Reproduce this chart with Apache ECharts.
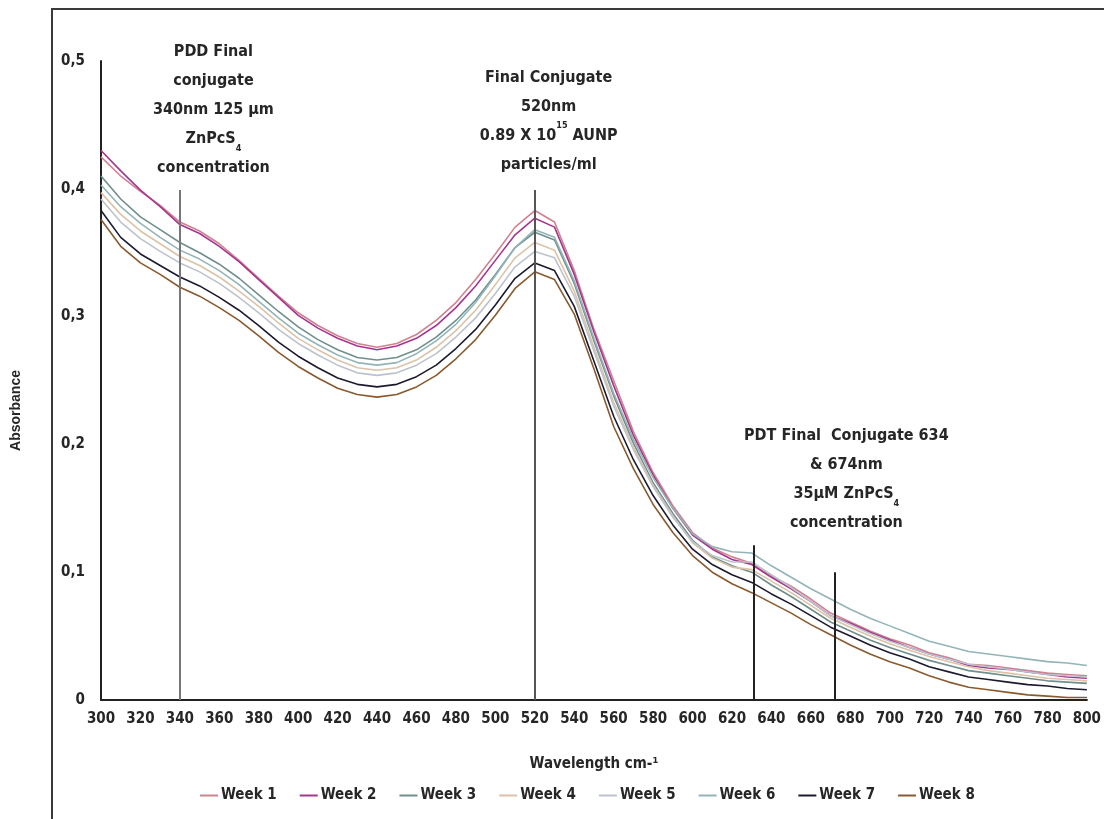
<!DOCTYPE html>
<html>
<head>
<meta charset="utf-8">
<script src="https://cdn.jsdelivr.net/npm/echarts@6/dist/echarts.min.js"></script>
<style>html,body{margin:0;padding:0;background:#fff}#c{width:1104px;height:819px}</style>
</head>
<body>
<div id="c"></div>
<script>
// wavelengths (nm), 10 nm steps
const wavelengths = [300,310,320,330,340,350,360,370,380,390,400,410,420,430,440,450,460,470,480,490,500,510,520,530,540,550,560,570,580,590,600,610,620,630,640,650,660,670,680,690,700,710,720,730,740,750,760,770,780,790,800];
const seriesNames = ['Week 1','Week 2','Week 3','Week 4','Week 5','Week 6','Week 7','Week 8'];
const week1 = [.425,.410,.398,.387,.374,.367,.357,.344,.330,.316,.303,.293,.285,.279,.276,.279,.286,.297,.311,.329,.349,.370,.383,.374,.336,.290,.250,.210,.178,.152,.131,.119,.112,.107,.097,.089,.079,.068,.061,.054,.048,.043,.037,.033,.028,.027,.025,.023,.021,.020,.019];
const week2 = [.430,.414,.399,.386,.372,.365,.355,.343,.329,.315,.301,.291,.283,.277,.274,.277,.283,.293,.307,.324,.344,.364,.377,.370,.333,.288,.246,.207,.176,.150,.129,.118,.110,.106,.096,.087,.077,.066,.060,.053,.047,.041,.036,.032,.027,.025,.024,.022,.020,.018,.017];
const week3 = [.410,.392,.378,.368,.358,.350,.341,.330,.317,.304,.292,.282,.274,.268,.266,.268,.274,.284,.297,.313,.333,.354,.366,.360,.326,.281,.238,.201,.170,.146,.125,.112,.105,.100,.090,.081,.071,.061,.054,.047,.041,.036,.031,.027,.023,.021,.019,.017,.015,.014,.013];
const week4 = [.397,.380,.367,.357,.347,.340,.331,.320,.308,.295,.283,.274,.266,.260,.258,.260,.266,.276,.289,.305,.325,.346,.358,.352,.320,.276,.233,.198,.168,.144,.123,.111,.104,.102,.093,.084,.074,.064,.057,.050,.044,.039,.034,.030,.026,.023,.021,.019,.017,.016,.015];
const week5 = [.392,.374,.361,.351,.342,.335,.326,.315,.303,.290,.279,.270,.262,.256,.254,.256,.262,.271,.284,.299,.318,.339,.351,.346,.316,.273,.230,.196,.167,.143,.124,.113,.108,.108,.098,.088,.077,.066,.059,.052,.046,.041,.036,.032,.028,.026,.024,.022,.020,.019,.018];
const week6 = [.403,.386,.373,.362,.352,.345,.336,.325,.312,.299,.287,.278,.270,.264,.262,.264,.271,.281,.294,.311,.332,.354,.368,.362,.328,.283,.240,.204,.174,.150,.130,.120,.116,.115,.105,.096,.087,.079,.071,.064,.058,.052,.046,.042,.038,.036,.034,.032,.030,.029,.027];
const week7 = [.383,.362,.349,.340,.331,.324,.315,.305,.293,.280,.269,.260,.252,.247,.245,.247,.253,.262,.275,.290,.309,.330,.342,.336,.308,.265,.222,.188,.160,.137,.118,.106,.098,.092,.083,.075,.066,.057,.050,.043,.037,.032,.026,.022,.018,.016,.014,.012,.011,.009,.008];
const week8 = [.376,.355,.342,.333,.323,.316,.307,.297,.285,.272,.261,.252,.244,.239,.237,.239,.245,.254,.267,.282,.301,.322,.335,.329,.302,.259,.214,.181,.153,.131,.113,.100,.091,.084,.076,.068,.059,.051,.043,.036,.030,.025,.019,.014,.010,.008,.006,.004,.003,.002,.002];
const yTicks = [0, 0.1, 0.2, 0.3, 0.4, 0.5];
// vertical marker lines: [wavelength, top absorbance]
const markers = [[340, 0.399], [520, 0.399], [631, 0.121], [672, 0.100]];
const markerColors = ['#777777', '#555555', '#222222', '#222222'];

const colors = ['#cf8290','#a4368f','#6f8f8c','#dcc3a6','#bcc3cc','#93b5b8','#1c1a30','#8a5a2e'];
const allData = [week1,week2,week3,week4,week5,week6,week7,week8];
const FONT = '"Liberation Sans Narrow","Arial Narrow","DejaVu Sans Condensed",sans-serif';
const TXT = '#262626';

const lineSeries = allData.map((arr, i) => ({
  name: seriesNames[i],
  type: 'line',
  symbol: 'none',
  data: wavelengths.map((w, j) => [w, arr[j]]),
  lineStyle: { width: 1.6, color: colors[i] },
  itemStyle: { color: colors[i] },
  z: 3
}));

const markerSeries = {
  type: 'line', name: 'markers', symbol: 'none', data: [], silent: true,
  markLine: {
    symbol: 'none', silent: true, label: { show: false },
    data: markers.map((m, i) => [
      { coord: [m[0], 0], lineStyle: { color: markerColors[i], width: 2, type: 'solid' } },
      { coord: [m[0], m[1]] }
    ])
  },
  z: 4
};

const rich = {
  t: { fontFamily: FONT, fontWeight: 'bold', fontSize: 16, color: TXT, lineHeight: 29 },
  sub: { fontFamily: FONT, fontWeight: 'bold', fontSize: 9, color: TXT, lineHeight: 12, verticalAlign: 'bottom' },
  sup: { fontFamily: FONT, fontWeight: 'bold', fontSize: 9, color: TXT, lineHeight: 12, verticalAlign: 'top' }
};
const annotations = [
  { pos: [357, 0.462], text: '{t|PDD Final}\n{t|conjugate}\n{t|340nm 125 µm}\n{t|ZnPcS}{sub|4}\n{t|concentration}' },
  { pos: [527, 0.453], text: '{t|Final Conjugate}\n{t|520nm}\n{t|0.89 X 10}{sup|15}{t| AUNP}\n{t|particles/ml}' },
  { pos: [678, 0.1725], text: '{t|PDT Final  Conjugate 634}\n{t|& 674nm}\n{t|35µM ZnPcS}{sub|4}\n{t|concentration}' }
];
const annoSeries = {
  type: 'scatter', name: 'notes', symbolSize: 0, silent: true, z: 5,
  itemStyle: { opacity: 1 },
  data: annotations.map(a => ({ value: a.pos, label: { show: true, position: 'inside', formatter: a.text, rich: rich, align: 'center', verticalAlign: 'middle', opacity: 1 } }))
};

const chart = echarts.init(document.getElementById('c'));
chart.setOption({
  animation: false,
  backgroundColor: '#ffffff',
  color: colors,
  graphic: [{
    type: 'rect', shape: { x: 52, y: 9, width: 1200, height: 1000 },
    style: { fill: 'none', stroke: '#3a3a3a', lineWidth: 2 }, silent: true, z: 0
  }],
  grid: { left: 101, right: 14, top: 61, bottom: 119, containLabel: false },
  xAxis: {
    type: 'value', min: 300, max: 800, interval: 20,
    name: 'Wavelength cm-¹', nameLocation: 'middle', nameGap: 57,
    nameTextStyle: { fontFamily: FONT, fontWeight: 'bold', fontSize: 15, color: TXT },
    axisLine: { show: true, onZero: false, lineStyle: { color: '#222', width: 2 } },
    axisTick: { show: false },
    splitLine: { show: false },
    axisLabel: { fontFamily: FONT, fontWeight: 'bold', fontSize: 15, color: TXT, margin: 12 }
  },
  yAxis: {
    type: 'value', min: 0, max: 0.5, interval: 0.1,
    name: 'Absorbance', nameLocation: 'middle', nameGap: 78, nameRotate: 90,
    nameTextStyle: { fontFamily: '"Liberation Sans",Arial,sans-serif', fontWeight: 'bold', fontSize: 14, color: TXT, padding: [0, 60, 0, 0] },
    axisLine: { show: true, lineStyle: { color: '#222', width: 2 } },
    axisTick: { show: false },
    splitLine: { show: false },
    axisLabel: {
      fontFamily: FONT, fontWeight: 'bold', fontSize: 15, color: TXT, margin: 16,
      formatter: v => { const t = yTicks.find(x => Math.abs(x - v) < 1e-9); return t === 0 ? '0' : t.toFixed(1).replace('.', ','); }
    }
  },
  legend: {
    data: seriesNames, left: 195, top: 783, itemWidth: 18, itemHeight: 10, itemGap: 23,
    icon: 'path://M0,4 L18,4 L18,6 L0,6 Z',
    textStyle: { fontFamily: FONT, fontWeight: 'bold', fontSize: 15, color: TXT, padding: [0,0,0,-2] }
  },
  series: [...lineSeries, markerSeries, annoSeries]
});
</script>
</body>
</html>
